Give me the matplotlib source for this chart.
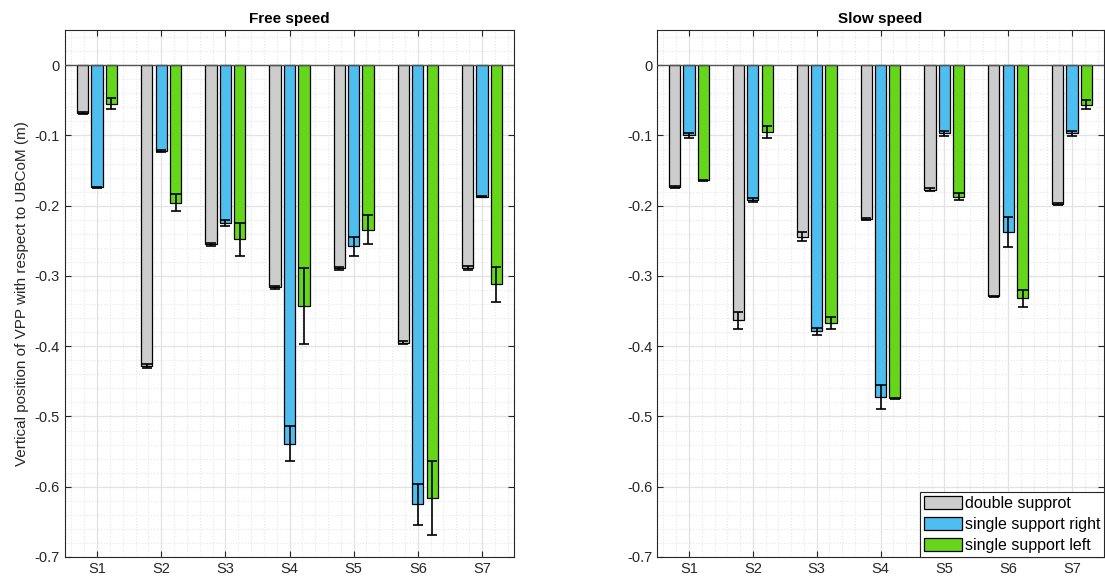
import numpy as np
import matplotlib
matplotlib.use("Agg")
import matplotlib.pyplot as plt
from matplotlib.ticker import MultipleLocator

plt.rcParams["font.family"] = ["Liberation Sans", "DejaVu Sans"]
plt.rcParams["axes.unicode_minus"] = False

subjects = ["S1", "S2", "S3", "S4", "S5", "S6", "S7"]
series = ["double supprot", "single support right", "single support left"]
colors = ["#CCCCCC", "#4DBEEE", "#66D61A"]

# Free speed
free_double = [-0.068, -0.428, -0.255, -0.316, -0.289, -0.395, -0.289]
free_right = [-0.174, -0.122, -0.225, -0.539, -0.258, -0.625, -0.187]
free_left = [-0.055, -0.196, -0.248, -0.343, -0.234, -0.616, -0.312]
free_double_err = [0.002, 0.003, 0.002, 0.002, 0.002, 0.002, 0.003]
free_right_err = [0.001, 0.001, 0.004, 0.025, 0.0135, 0.029, 0.001]
free_left_err = [0.008, 0.012, 0.024, 0.054, 0.021, 0.053, 0.025]

# Slow speed
slow_double = [-0.1735, -0.363, -0.244, -0.219, -0.177, -0.329, -0.1976]
slow_right = [-0.100, -0.192, -0.379, -0.472, -0.097, -0.237, -0.097]
slow_left = [-0.164, -0.095, -0.367, -0.474, -0.187, -0.332, -0.056]
slow_double_err = [0.002, 0.012, 0.0067, 0.001, 0.002, 0.001, 0.002]
slow_right_err = [0.0033, 0.003, 0.005, 0.017, 0.0035, 0.0215, 0.0035]
slow_left_err = [0.001, 0.0083, 0.008, 0.001, 0.005, 0.012, 0.0066]


def draw_panel(ax, vals, errs, title, show_legend=False):
    x = np.arange(1, len(subjects) + 1)
    width = 0.175
    offsets = [-0.225, 0.0, 0.225]
    handles = []
    for v, e, c, off, name in zip(vals, errs, colors, offsets, series):
        h = ax.bar(x + off, v, width, color=c, edgecolor="black", linewidth=0.9,
                   label=name, zorder=3)
        ax.errorbar(x + off, v, yerr=e, fmt="none", ecolor="black", elinewidth=1.2,
                    capsize=3.5, capthick=1.2, zorder=4)
        handles.append(h)
    ax.axhline(0, color="#555555", linewidth=1.0, zorder=5)

    ax.set_xlim(0.5, 7.5)
    ax.set_ylim(-0.7, 0.05)
    ax.set_xticks(x)
    ax.set_xticklabels(subjects)
    yt = np.arange(0, -0.71, -0.1)
    ax.set_yticks(yt)
    ax.set_yticklabels(["0"] + ["-%.1f" % abs(t) for t in yt[1:]])
    ax.xaxis.set_minor_locator(MultipleLocator(0.2))
    ax.yaxis.set_minor_locator(MultipleLocator(0.02))
    ax.grid(True, which="major", color="#E2E2E2", linewidth=0.9, zorder=0)
    ax.grid(True, which="minor", color="#E6E6E6", linestyle=":", linewidth=0.8, zorder=0)
    ax.set_axisbelow(True)
    ax.tick_params(which="major", direction="in", length=4, top=True, right=True,
                   labelsize=10.5, colors="#262626", width=0.8)
    ax.tick_params(which="minor", length=0)
    for s in ax.spines.values():
        s.set_color("#262626")
        s.set_linewidth(0.8)
    ax.set_title(title, fontsize=11, fontweight="bold", color="black", pad=5)
    if show_legend:
        leg = ax.legend(handles=handles, loc="lower right", fontsize=11.5,
                        frameon=True, fancybox=False, borderaxespad=0.0,
                        handlelength=2.4, handleheight=0.95, handletextpad=0.15,
                        labelspacing=0.35, borderpad=0.25)
        leg.get_frame().set_edgecolor("#262626")
        leg.get_frame().set_linewidth(0.8)
        leg.get_frame().set_alpha(1.0)


fig = plt.figure(figsize=(11.05, 5.83), dpi=100)
ax1 = fig.add_axes([0.0588, 0.0446, 0.4064, 0.9039])
ax2 = fig.add_axes([0.5946, 0.0446, 0.4045, 0.9039])

draw_panel(ax1, [free_double, free_right, free_left],
           [free_double_err, free_right_err, free_left_err], "Free speed")
draw_panel(ax2, [slow_double, slow_right, slow_left],
           [slow_double_err, slow_right_err, slow_left_err], "Slow speed",
           show_legend=True)
ax1.set_ylabel("Vertical position of VPP with respect to UBCoM (m)",
               fontsize=11, color="#262626", labelpad=4)

fig.savefig("out.png", dpi=100)
